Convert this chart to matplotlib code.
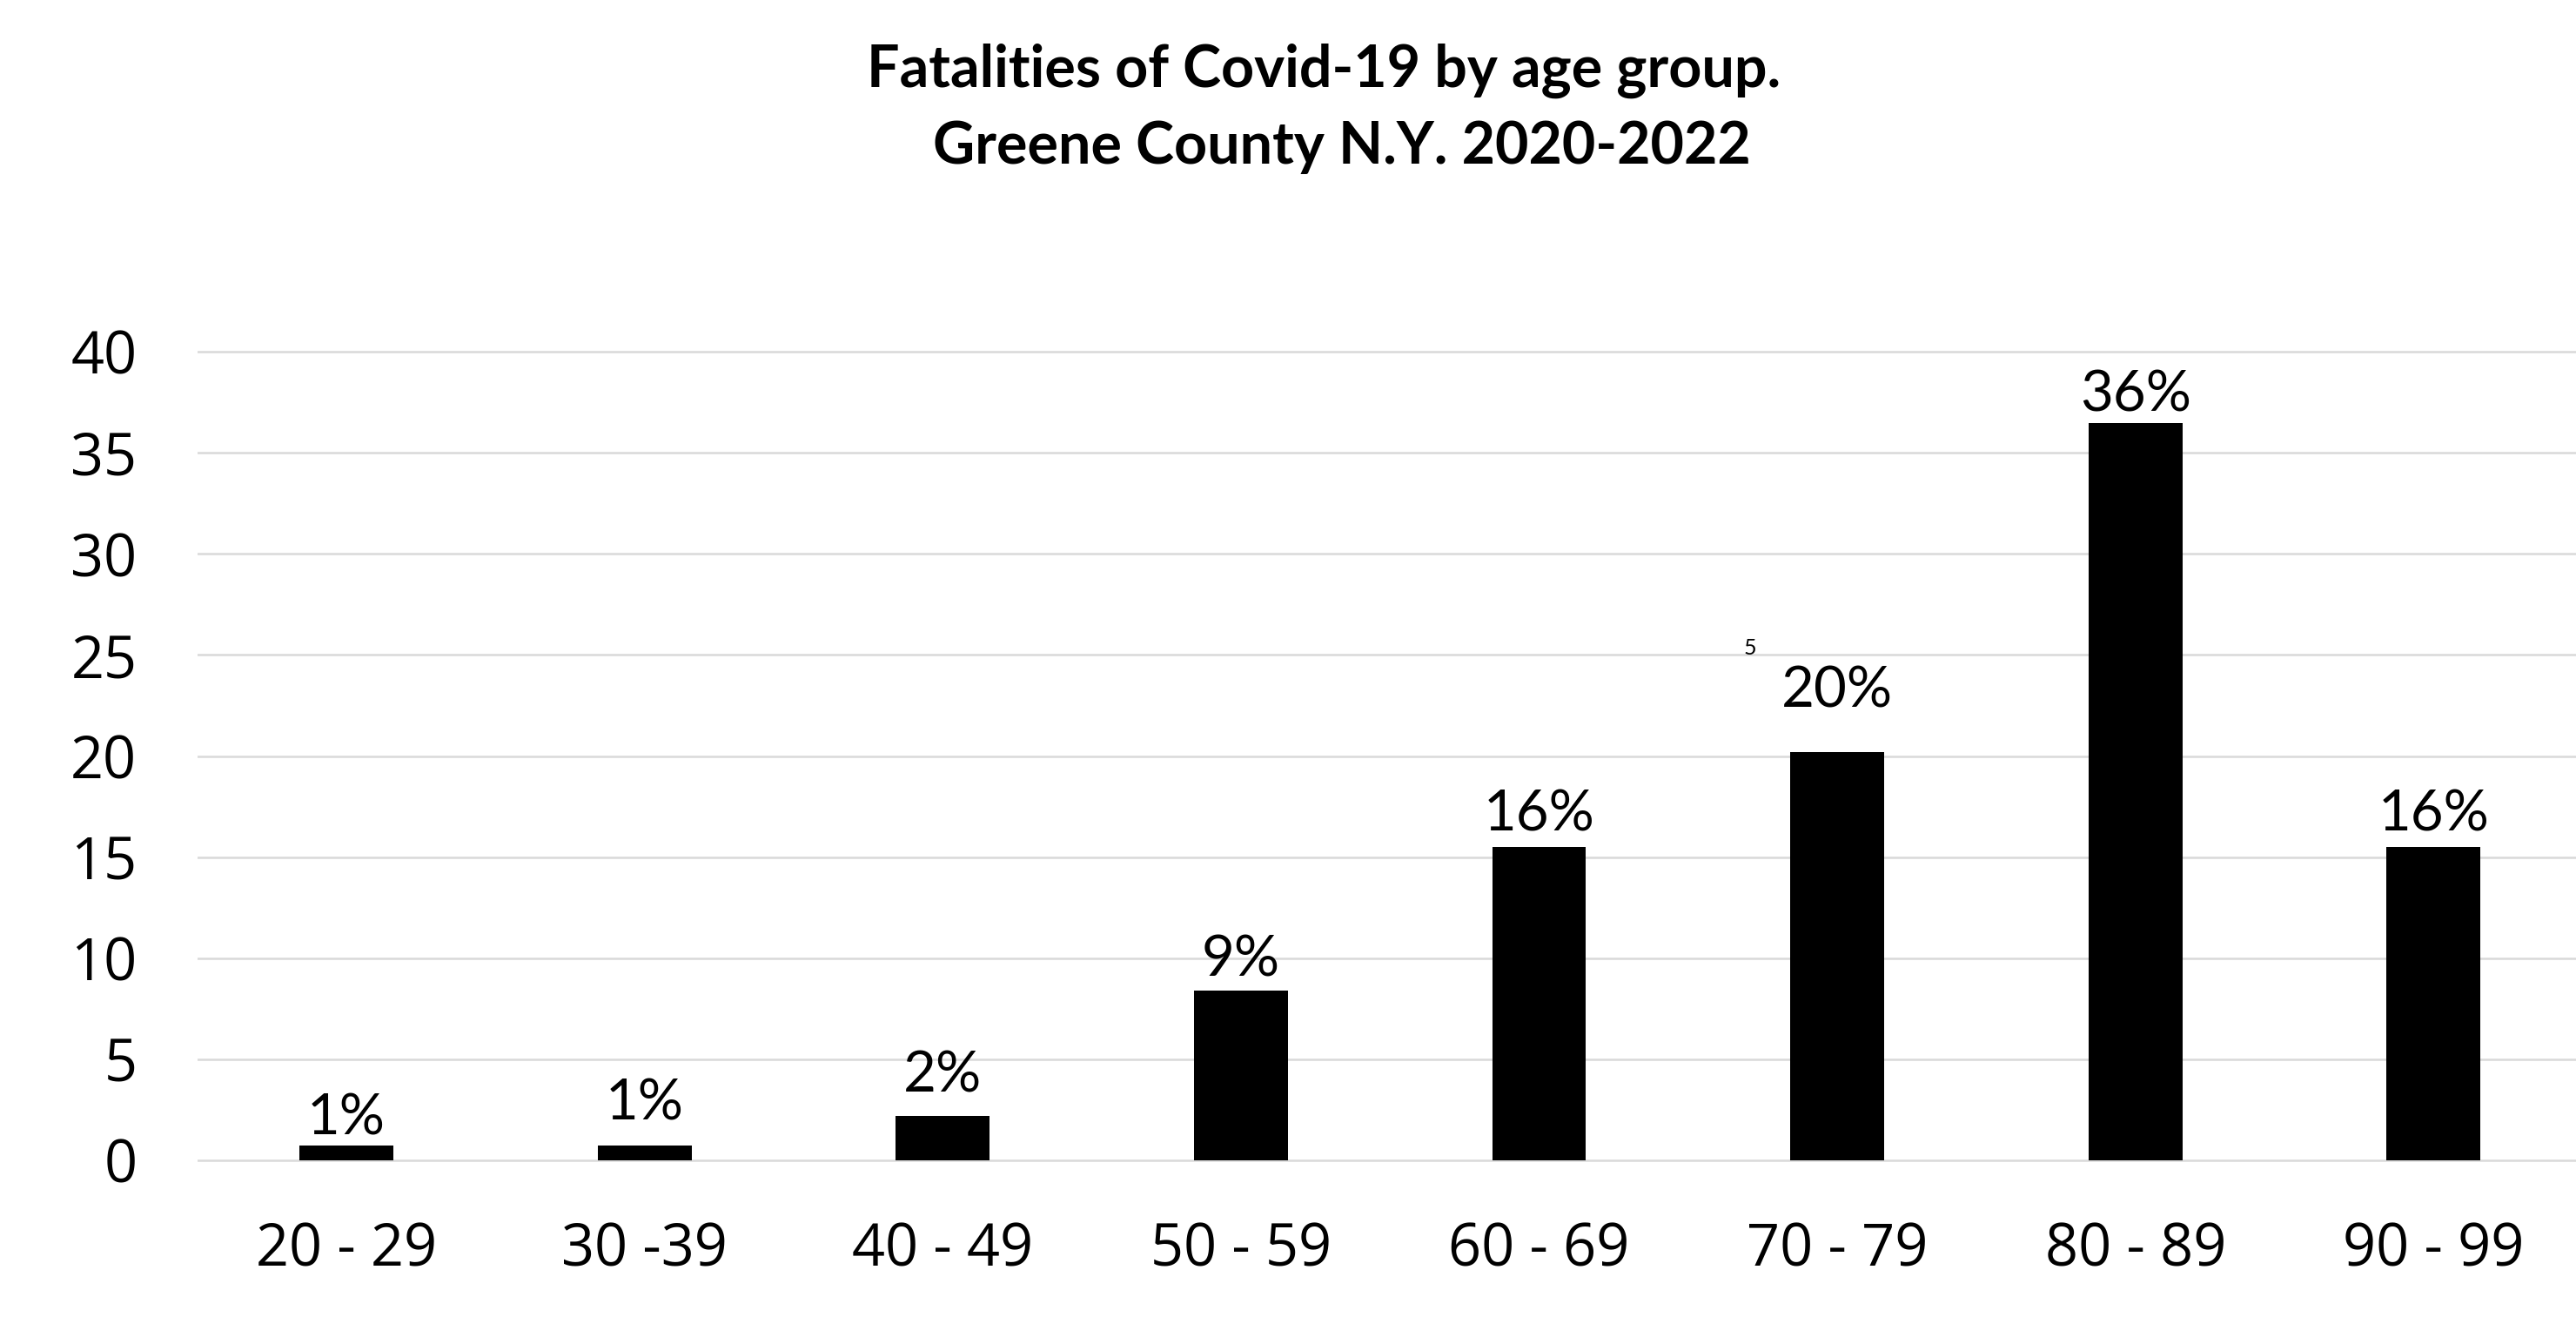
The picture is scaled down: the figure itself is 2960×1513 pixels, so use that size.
import matplotlib
matplotlib.use("Agg")
import matplotlib.pyplot as plt

# data
age_groups = ["20 - 29", "30 -39", "40 - 49", "50 - 59", "60 - 69", "70 - 79", "80 - 89", "90 - 99"]
fatalities = [0.74, 0.74, 2.2, 8.4, 15.5, 20.2, 36.45, 15.5]
pct_labels = ["1%", "1%", "2%", "9%", "16%", "20%", "36%", "16%"]
label_pad = [0.55, 1.25, 1.2, 0.7, 0.8, 2.2, 0.6, 0.8]
y_ticks = [0, 5, 10, 15, 20, 25, 30, 35, 40]

fig = plt.figure(figsize=(29.6, 15.13), dpi=100)
ax = fig.add_axes([0.0766, 0.1113, 0.926, 0.637])

x = range(len(age_groups))
ax.bar(x, fatalities, width=0.315, color="black", zorder=3)

# percentage labels above bars
for i, (v, lab) in enumerate(zip(fatalities, pct_labels)):
    ax.text(i, v + label_pad[i], lab, ha="center", va="baseline",
            fontsize=47, family="Lato", color="black")

# stray label left over in the original slide
ax.text(4.706, 25.0, "5", ha="center", va="baseline", fontsize=18, family="Lato")

ax.set_xlim(-0.5, 7.5)
ax.set_ylim(-0.5, 41)
ax.set_yticks(y_ticks)
ax.set_xticks(list(x))
ax.set_xticklabels(age_groups)
ax.tick_params(axis="both", length=0, labelsize=48)
ax.tick_params(axis="y", pad=50)
ax.tick_params(axis="x", pad=42)
for lab in ax.get_xticklabels() + ax.get_yticklabels():
    lab.set_family("Open Sans")

ax.grid(axis="y", color="#d9d9d9", linewidth=1.8, zorder=0)
for s in ax.spines.values():
    s.set_visible(False)

fig.text(0.514, 0.946, "Fatalities of Covid-19 by age group.", ha="center", va="center",
         fontsize=47.8, family="Lato", weight="bold")
fig.text(0.521, 0.888, "Greene County N.Y. 2020-2022", ha="center", va="center",
         fontsize=47.8, family="Lato", weight="bold")

fig.savefig("out.png", dpi=100)
